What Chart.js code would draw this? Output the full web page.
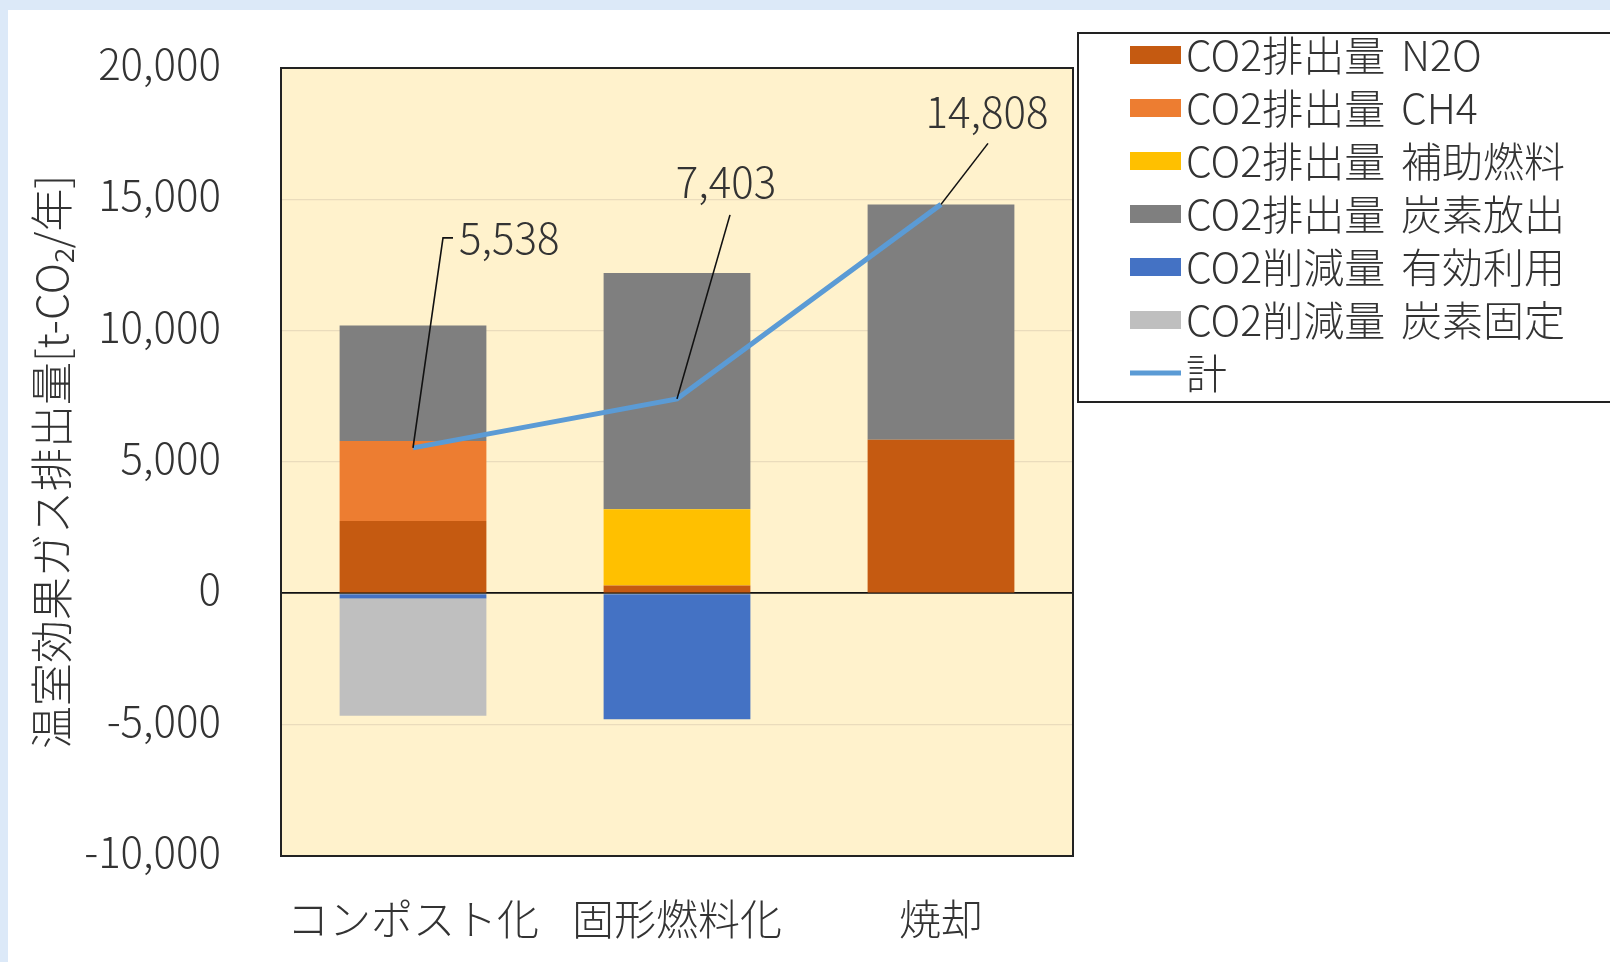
<!DOCTYPE html>
<html lang="ja">
<head>
<meta charset="utf-8">
<script src="https://cdn.jsdelivr.net/npm/chart.js@4.4.1/dist/chart.umd.min.js"></script>
<style>
html, body { margin: 0; padding: 0; }
body { width: 1610px; height: 962px; background: #dce9f8; overflow: hidden; position: relative; }
#panel { position: absolute; left: 8px; top: 10px; width: 1602px; height: 952px; background: #fff; }
#wrap { position: absolute; left: 0; top: 0; width: 1610px; height: 962px; }
</style>
</head>
<body>
<div id="panel"></div>
<div id="wrap"><canvas id="grafico" width="1610" height="962"></canvas></div>
<script>
// datos (t-CO2/年)
const categorias = ['コンポスト化', '固形燃料化', '焼却'];
const n2o = [2750, 300, 5850];
const ch4 = [3050, null, null];
const hojoNenryo = [null, 2900, null];
const tansoHoshutsu = [4400, 9000, 8958];
const yukoRiyo = [-200, -4797, null];
const tansoKotei = [-4462, null, null];
const total = [5538, 7403, 14808];
const yTicks = [-10000, -5000, 0, 5000, 10000, 15000, 20000];

const fuente = "'Noto Sans CJK JP', 'Noto Sans', sans-serif";
Chart.defaults.font.family = fuente;
Chart.defaults.font.weight = '300';
Chart.defaults.color = '#333';

function fmt(v) {
    return v.toLocaleString('en-US');
}

// fondo y marco del area de trazado
const marco = {
    id: 'marco',
    beforeDraw(chart) {
        const a = chart.chartArea, ctx = chart.ctx;
        ctx.save();
        ctx.fillStyle = '#fff2cc';
        ctx.fillRect(a.left, a.top, a.right - a.left, a.bottom - a.top);
        ctx.restore();
    },
    afterDatasetsDraw(chart) {
        const a = chart.chartArea, ctx = chart.ctx;
        ctx.save();
        ctx.strokeStyle = '#222';
        ctx.lineWidth = 2;
        ctx.strokeRect(a.left, a.top, a.right - a.left, a.bottom - a.top);
        ctx.restore();
    }
};

// etiquetas del total con lineas guia
const posEtiquetas = [
    { guia: [[30, -210], [40, -210]], texto: [46, -210], align: 'left' },
    { guia: [[53, -184]], texto: [49, -217], align: 'center' },
    { guia: [[47, -61]], texto: [46, -92], align: 'center' }
];
const etiquetas = {
    id: 'etiquetas',
    afterDatasetsDraw(chart) {
        const ctx = chart.ctx;
        const idx = chart.data.datasets.findIndex(d => d.type === 'line');
        const pts = chart.getDatasetMeta(idx).data;
        ctx.save();
        ctx.strokeStyle = '#111';
        ctx.lineWidth = 1.6;
        ctx.fillStyle = '#333';
        ctx.font = '300 42px ' + fuente;
        ctx.textBaseline = 'middle';
        pts.forEach((p, i) => {
            const e = posEtiquetas[i];
            ctx.beginPath();
            ctx.moveTo(p.x, p.y);
            e.guia.forEach(g => ctx.lineTo(p.x + g[0], p.y + g[1]));
            ctx.stroke();
            ctx.textAlign = e.align;
            ctx.fillText(fmt(total[i]), p.x + e.texto[0], p.y + e.texto[1]);
        });
        ctx.restore();
    }
};

// leyenda con recuadro
const leyenda = {
    id: 'leyenda',
    afterDraw(chart) {
        const ctx = chart.ctx;
        const orden = [1, 2, 3, 4, 5, 6, 0];
        ctx.save();
        ctx.fillStyle = '#fff';
        ctx.fillRect(1078, 33, 540, 369);
        ctx.strokeStyle = '#222';
        ctx.lineWidth = 2;
        ctx.strokeRect(1078, 33, 540, 369);
        ctx.font = '300 41px ' + fuente;
        ctx.textBaseline = 'middle';
        ctx.textAlign = 'left';
        orden.forEach((k, i) => {
            const ds = chart.data.datasets[k];
            const y = 55 + i * 53;
            if (ds.type === 'line') {
                ctx.strokeStyle = ds.borderColor;
                ctx.lineWidth = 5;
                ctx.beginPath();
                ctx.moveTo(1130, y);
                ctx.lineTo(1181, y);
                ctx.stroke();
            } else {
                ctx.fillStyle = ds.backgroundColor;
                ctx.fillRect(1130, y - 9, 51, 18);
            }
            ctx.fillStyle = '#333';
            const partes = ds.label.split(' ');
            ctx.fillText(partes[0], 1186, y);
            if (partes[1]) ctx.fillText(partes[1], 1401, y);
        });
        ctx.restore();
    }
};

const ctx = document.getElementById('grafico');
new Chart(ctx, {
    data: {
        labels: categorias,
        datasets: [
            { type: 'line', label: '計', data: total, borderColor: '#5b9bd5', borderWidth: 5, pointRadius: 0, order: -1 },
            { type: 'bar', label: 'CO2排出量 N2O', data: n2o, backgroundColor: '#c55a11' },
            { type: 'bar', label: 'CO2排出量 CH4', data: ch4, backgroundColor: '#ed7d31' },
            { type: 'bar', label: 'CO2排出量 補助燃料', data: hojoNenryo, backgroundColor: '#ffc000' },
            { type: 'bar', label: 'CO2排出量 炭素放出', data: tansoHoshutsu, backgroundColor: '#7f7f7f' },
            { type: 'bar', label: 'CO2削減量 有効利用', data: yukoRiyo, backgroundColor: '#4472c4' },
            { type: 'bar', label: 'CO2削減量 炭素固定', data: tansoKotei, backgroundColor: '#bfbfbf' }
        ]
    },
    options: {
        responsive: false,
        animation: false,
        devicePixelRatio: 1,
        layout: { padding: { left: 0, top: 68, right: 537, bottom: 0 } },
        datasets: { bar: { categoryPercentage: 1, barPercentage: 0.556 } },
        plugins: { legend: { display: false }, tooltip: { enabled: false } },
        scales: {
            x: {
                stacked: true,
                grid: { display: false },
                border: { display: false },
                ticks: { font: { size: 42 }, padding: 30, maxRotation: 0 },
                afterFit(s) { s.height = 106; }
            },
            y: {
                stacked: true,
                min: -10000,
                max: 20000,
                afterBuildTicks(s) { s.ticks = yTicks.map(v => ({ value: v })); },
                ticks: { font: { size: 42 }, padding: 60, labelOffset: -4, callback: v => fmt(v) },
                grid: {
                    drawTicks: false,
                    color: c => c.tick && c.tick.value === 0 ? '#111' : '#eadcbc',
                    lineWidth: c => c.tick && c.tick.value === 0 ? 1.8 : 1.2
                },
                border: { display: false },
                title: { display: true, text: '温室効果ガス排出量[t-CO₂/年]', font: { size: 43 }, padding: { top: 26, bottom: 0 } },
                afterFit(s) {
                    s.width = 281;
                    s.paddingTop = 20;
                    s.paddingBottom = 20;
                }
            }
        }
    },
    plugins: [marco, etiquetas, leyenda]
});
</script>
</body>
</html>
